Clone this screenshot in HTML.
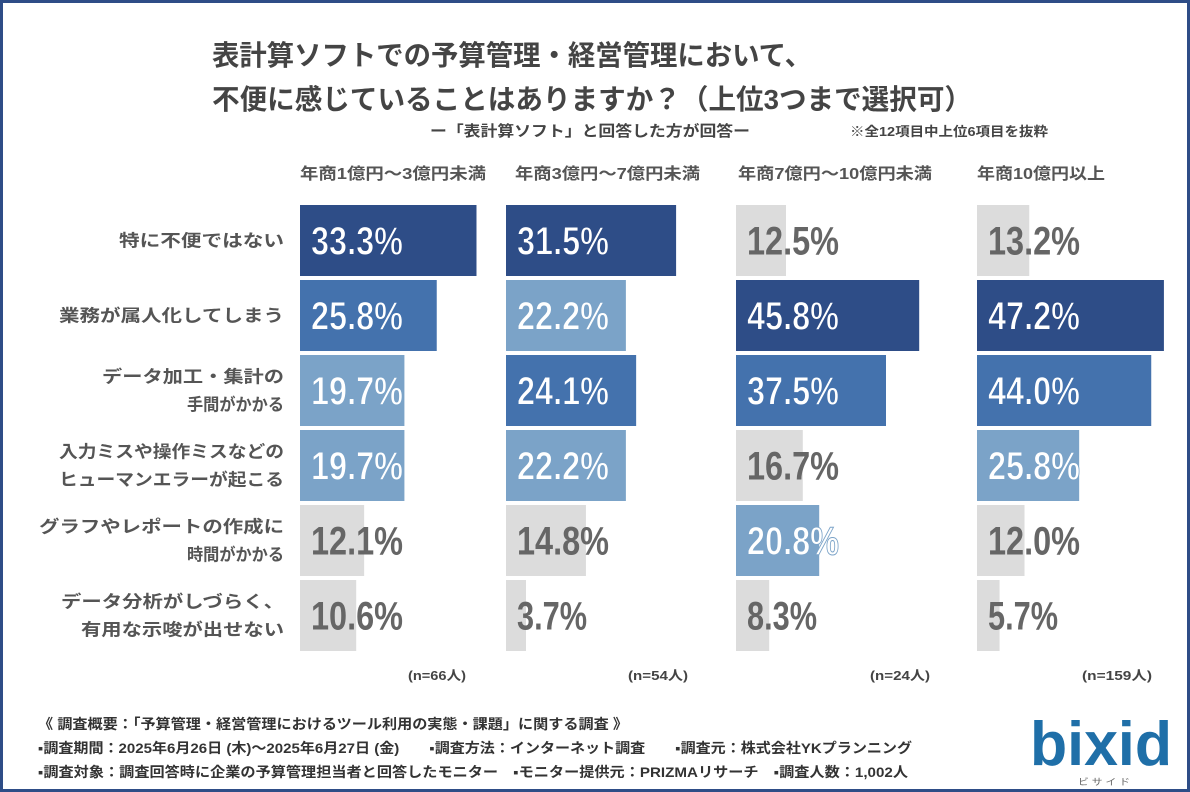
<!DOCTYPE html>
<html><head><meta charset="utf-8"><style>
html,body{margin:0;padding:0;background:#fff;}
svg{display:block;font-family:"Liberation Sans","Noto Sans CJK JP",sans-serif;}
.val{font-family:"Liberation Sans Narrow","Liberation Sans",sans-serif;font-weight:bold;font-size:40px;}
</style></head><body>
<svg id="chart" width="1190" height="792" viewBox="0 0 1190 792">
<rect x="1.5" y="1.5" width="1187" height="789" fill="#fff" stroke="#2e4d87" stroke-width="3"/>
<g font-weight="bold" fill="#444">
<text x="212" y="65" font-size="28" textLength="600" lengthAdjust="spacingAndGlyphs">表計算ソフトでの予算管理・経営管理において、</text>
<text x="212" y="109" font-size="28" textLength="760" lengthAdjust="spacingAndGlyphs">不便に感じていることはありますか？（上位3つまで選択可）</text>
</g>
<text x="430" y="136" font-size="15" font-weight="bold" fill="#444" textLength="320" lengthAdjust="spacingAndGlyphs">ー「表計算ソフト」と回答した方が回答ー</text>
<text x="850" y="136" font-size="13" font-weight="bold" fill="#444" textLength="198" lengthAdjust="spacingAndGlyphs">※全12項目中上位6項目を抜粋</text>
<g id="bars"></g>
<g font-weight="bold" fill="#333" font-size="14">
<text x="38" y="729" textLength="590" lengthAdjust="spacingAndGlyphs">《 調査概要：「予算管理・経営管理におけるツール利用の実態・課題」に関する調査 》</text>
<text x="38" y="753" textLength="874" lengthAdjust="spacingAndGlyphs">▪調査期間：2025年6月26日 (木)～2025年6月27日 (金)　　▪調査方法：インターネット調査　　▪調査元：株式会社YKプランニング</text>
<text x="38" y="777" textLength="870" lengthAdjust="spacingAndGlyphs">▪調査対象：調査回答時に企業の予算管理担当者と回答したモニター　▪モニター提供元：PRIZMAリサーチ　▪調査人数：1,002人</text>
</g>
<g>
<text x="1030" y="765" font-size="62" font-weight="bold" fill="#1f6fa8" textLength="142" lengthAdjust="spacingAndGlyphs">bixid</text>
<text x="1078" y="785" font-size="9" fill="#666" textLength="52" lengthAdjust="spacingAndGlyphs">ビ サ イ ド</text>
</g>
</svg>
<script>
const categories = ["特に不便ではない","業務が属人化してしまう","データ加工・集計の\n手間がかかる","入力ミスや操作ミスなどの\nヒューマンエラーが起こる","グラフやレポートの作成に\n時間がかかる","データ分析がしづらく、\n有用な示唆が出せない"];
const groups = ["年商1億円～3億円未満","年商3億円～7億円未満","年商7億円～10億円未満","年商10億円以上"];
const nLabels = ["(n=66人)","(n=54人)","(n=24人)","(n=159人)"];
const series1 = [33.3,25.8,19.7,19.7,12.1,10.6];
const series2 = [31.5,22.2,24.1,22.2,14.8,3.7];
const series3 = [12.5,45.8,37.5,16.7,20.8,8.3];
const series4 = [13.2,47.2,44.0,25.8,12.0,5.7];
const allSeries = [series1,series2,series3,series4];

const NS="http://www.w3.org/2000/svg";
const g=document.getElementById('bars');
function mk(tag,attrs,parent){const e=document.createElementNS(NS,tag);for(const k in attrs)e.setAttribute(k,attrs[k]);(parent||g).appendChild(e);return e;}
const panelX=[300,506,736,977];
const pxPerPct=[5.3,5.4,4.0,3.96];
const headerW=[186,185,194,128];
const headerX=[300,515,738,977];
const nX=[408,628,870,1082];
const nW=[58,60,60,70];
const rowTop=205, rowStep=75, barH=71;
const labelW=[[165],[225],[182,97],[225,225],[245,97],[223,203]];
function xScale(p,v){return panelX[p]+v*pxPerPct[p];}
function yScale(i){return rowTop+i*rowStep;}
const colors=["#2e4d87","#4472ad","#7ba3c8"];

categories.forEach((c,i)=>{
  const lines=c.split("\n");
  const cy=yScale(i)+barH/2;
  lines.forEach((ln,j)=>{
    const by = lines.length===1 ? cy+6 : cy-8+j*28;
    const t=mk('text',{x:284,y:by,'text-anchor':'end','font-size':17,'font-weight':'bold',fill:'#555',textLength:labelW[i][j],lengthAdjust:'spacingAndGlyphs'});
    
    
    t.textContent=ln;
  });
});
groups.forEach((gr,p)=>{
  const t=mk('text',{x:headerX[p],y:179,'font-size':16,'font-weight':'bold',fill:'#555',textLength:headerW[p],lengthAdjust:'spacingAndGlyphs'});
  
  
  t.textContent=gr;
  const n=mk('text',{x:nX[p],y:680,'font-size':13,'font-weight':'bold',fill:'#444',textLength:nW[p],lengthAdjust:'spacingAndGlyphs'});
  
  
  n.textContent=nLabels[p];
  const vals=allSeries[p];
  const sorted=[...new Set(vals)].sort((a,b)=>b-a);
  vals.forEach((v,i)=>{
    const rank=sorted.indexOf(v);
    const col=rank<3?colors[rank]:"#dcdcdc";
    const r=mk('rect',{x:panelX[p],y:yScale(i),width:xScale(p,v)-panelX[p],height:barH,fill:col});
    
    
    const s=v.toFixed(1)+"%";
    const attrs={x:panelX[p]+11,y:yScale(i)+barH/2+14,fill:rank<3?'#fff':'#666',class:'val',textLength:s.length===5?92:70,lengthAdjust:'spacingAndGlyphs'};
    if(rank<3){attrs.stroke=col;attrs['stroke-width']=1;}
    const t=mk('text',attrs);
    
    
    t.textContent=s;
  });
});
</script>
</body></html>
